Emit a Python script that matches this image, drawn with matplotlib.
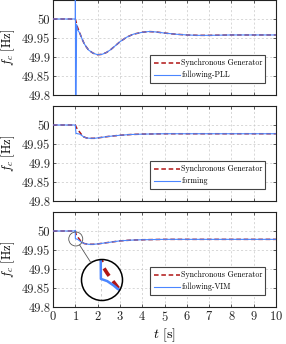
import numpy as np
import matplotlib
matplotlib.use("Agg")
import matplotlib.pyplot as plt
from matplotlib.ticker import FuncFormatter, FixedLocator
from matplotlib.patches import Circle, Ellipse
from matplotlib.lines import Line2D

plt.rcParams['font.family'] = ['cmr10', 'DejaVu Serif']
plt.rcParams['mathtext.fontset'] = 'cm'
plt.rcParams['axes.formatter.use_mathtext'] = True

# ---------------- data ----------------
# Panel 1: grid-following PLL
t_sg1 = [0, 1.0, 1.1, 1.2, 1.3, 1.4, 1.5, 1.6, 1.8, 2.0, 2.2, 2.4, 2.6, 2.8, 3.0, 3.3, 3.6,
         4.0, 4.3, 4.6, 5.0, 5.5, 6.0, 6.5, 7.0, 8.0, 9.0, 10.0]
f_sg1 = [50, 50, 49.978, 49.963, 49.948, 49.935, 49.926, 49.918, 49.910, 49.906, 49.907,
         49.912, 49.920, 49.930, 49.940, 49.952, 49.960, 49.965, 49.967, 49.966, 49.963,
         49.960, 49.958, 49.957, 49.957, 49.958, 49.958, 49.958]
t_pll = [0, 1.0, 1.004, 1.012, 1.04, 1.06, 1.08, 1.12, 1.2, 1.3, 1.4, 1.5, 1.6, 1.8, 2.0, 2.2,
         2.4, 2.6, 2.8, 3.0, 3.3, 3.6, 4.0, 4.3, 4.6, 5.0, 5.5, 6.0, 6.5, 7.0, 8.0, 9.0, 10.0]
f_pll = [50, 50, 50.3, 49.6, 49.84, 49.985, 49.975, 49.970, 49.963, 49.948, 49.935, 49.926,
         49.918, 49.910, 49.906, 49.907, 49.912, 49.920, 49.930, 49.940, 49.952, 49.960,
         49.965, 49.967, 49.966, 49.963, 49.960, 49.958, 49.957, 49.957, 49.958, 49.958,
         49.958]

# Panel 2: grid-forming
t_sg2 = [0, 1.0, 1.05, 1.15, 1.25, 1.37, 1.5, 1.67, 1.85, 2.0, 2.5, 3.0, 3.5, 4.0, 5.0, 6.0,
         8.0, 10.0]
f_sg2 = [50, 50, 49.993, 49.985, 49.977, 49.969, 49.966, 49.965, 49.965, 49.966, 49.970,
         49.973, 49.975, 49.976, 49.977, 49.977, 49.977, 49.977]
t_gfm = [0, 1.0, 1.03, 1.1, 1.2, 1.3, 1.4, 1.5, 1.67, 1.85, 2.0, 2.5, 3.0, 3.5, 4.0, 5.0, 6.0,
         8.0, 10.0]
f_gfm = [50, 50, 49.978, 49.977, 49.976, 49.972, 49.968, 49.966, 49.965, 49.965, 49.966,
         49.970, 49.973, 49.975, 49.976, 49.977, 49.977, 49.977, 49.977]

# Panel 3: grid-following VIM
t_sg3 = [0, 1.0, 1.035, 1.1, 1.2, 1.28, 1.4, 1.6, 1.8, 2.0, 2.5, 3.0, 3.5, 4.0, 5.0, 6.0,
         8.0, 10.0]
f_sg3 = [50, 50, 49.991, 49.985, 49.977, 49.971, 49.967, 49.965, 49.965, 49.966, 49.970,
         49.974, 49.976, 49.977, 49.978, 49.978, 49.978, 49.978]
t_vim = [0, 0.99, 1.0, 1.003, 1.1, 1.2, 1.26, 1.4, 1.6, 1.8, 2.0, 2.5, 3.0, 3.5, 4.0, 5.0,
         6.0, 8.0, 10.0]
f_vim = [50, 50, 50.002, 49.980, 49.978, 49.974, 49.971, 49.967, 49.965, 49.965, 49.966,
         49.970, 49.974, 49.976, 49.977, 49.978, 49.978, 49.978, 49.978]

labels_other = ['following-PLL', 'forming', 'following-VIM']
label_sg = 'Synchronous Generator'
x_ticks = list(range(0, 11))
y_ticks = [49.8, 49.85, 49.9, 49.95, 50]

RED = '#b01515'
BLUE = '#4b86ff'

W, H = 286, 344
fig = plt.figure(figsize=(W / 100, H / 100), dpi=100)

def px_axes(l, t, r, b):
    return fig.add_axes([l / W, 1 - b / H, (r - l) / W, (b - t) / H])

L, R = 53, 276
panels = [(0, 95), (106, 201), (212, 307)]
series = [(t_sg1, f_sg1, t_pll, f_pll), (t_sg2, f_sg2, t_gfm, f_gfm),
          (t_sg3, f_sg3, t_vim, f_vim)]
axes = []
for i, ((top, bot), (ts, fs, to, fo)) in enumerate(zip(panels, series)):
    ax = px_axes(L, top, R, bot)
    axes.append(ax)
    ax.plot(ts, fs, color=RED, lw=1.1, dashes=(3, 1.8), label=label_sg, zorder=3)
    ax.plot(to, fo, color=BLUE, lw=0.8, label=labels_other[i], zorder=4)
    ax.set_xlim(0, 10)
    ax.set_ylim(49.8, 50.05)
    ax.xaxis.set_major_locator(FixedLocator(x_ticks))
    ax.yaxis.set_major_locator(FixedLocator(y_ticks))
    ax.yaxis.set_major_formatter(FuncFormatter(lambda v, p: f'{v:g}'))
    ax.grid(True, color='#c8c8c8', lw=0.5, linestyle=(0, (3, 3)))
    ax.tick_params(direction='in', length=2.5, width=0.5, top=True, right=True,
                   labelsize=9, pad=2, colors='#222222')
    for s in ax.spines.values():
        s.set_linewidth(0.8)
        s.set_color('#222222')
    if i < 2:
        ax.tick_params(labelbottom=False)
    ax.set_ylabel('$f_c$ [Hz]', fontsize=9)
    ax.yaxis.set_label_coords(-0.16, 0.5)
    leg = ax.legend(loc='upper left', bbox_to_anchor=(0.435, 0.147, 0.516, 0.274),
                    mode='expand', borderaxespad=0, fontsize=5.7, handlelength=3.3,
                    handletextpad=0.15, labelspacing=0.45, fancybox=False,
                    edgecolor='#444444', framealpha=1, borderpad=0.5)
    leg.get_frame().set_linewidth(0.8)

axes[2].set_xlabel('$t$ [s]', fontsize=10)
axes[2].xaxis.set_label_coords(0.5, -0.2)

# ---------- zoom circle on panel 3 ----------
ax = axes[2]
tc, fc = 1.02, 49.979
r_small = 7.0   # px
r_big = 20.5    # px
big_cx, big_cy = 102, 280  # px (image coords)
px_t = (R - L) / 10.0
px_f = (panels[2][1] - panels[2][0]) / 0.25
dt = r_small / px_t
df = r_small / px_f

ax.add_patch(Ellipse((tc, fc), 2 * dt, 2 * df, fill=False, ec='#555555', lw=0.6, zorder=6))

axin = px_axes(big_cx - r_big, big_cy - r_big, big_cx + r_big, big_cy + r_big)
axin.set_xlim(tc - dt, tc + dt)
axin.set_ylim(fc - df, fc + df)
axin.set_axis_off()
bg = Circle((0.5, 0.5), 0.5, transform=axin.transAxes, fc='white', ec='none', zorder=0)
axin.add_patch(bg)
clip = Circle((0.5, 0.5), 0.5, transform=axin.transAxes)
g = axin.axvline(1.0, color='#c8c8c8', lw=0.6, linestyle=(0, (3, 3)), zorder=1)
g.set_clip_path(clip)
l1, = axin.plot(t_sg3, f_sg3, color=RED, lw=2.6, dashes=(2.5, 1.8), zorder=3)
l2, = axin.plot(t_vim, f_vim, color=BLUE, lw=1.8, zorder=4)
l1.set_clip_path(clip)
l2.set_clip_path(clip)
axin.add_patch(Circle((0.5, 0.5), 0.5, transform=axin.transAxes, fill=False,
                      ec='black', lw=1.1, zorder=5, clip_on=False))

# connector line
scx = L + tc * px_t
scy = panels[2][0] + (50.05 - fc) * px_f
vx, vy = big_cx - scx, big_cy - scy
d = np.hypot(vx, vy)
ux, uy = vx / d, vy / d
p0 = (scx + ux * r_small, scy + uy * r_small)
p1 = (big_cx - ux * r_big, big_cy - uy * r_big)
fig.add_artist(Line2D([p0[0] / W, p1[0] / W], [1 - p0[1] / H, 1 - p1[1] / H],
                      transform=fig.transFigure, color='#555555', lw=0.6))

fig.savefig('out.png', dpi=100)
